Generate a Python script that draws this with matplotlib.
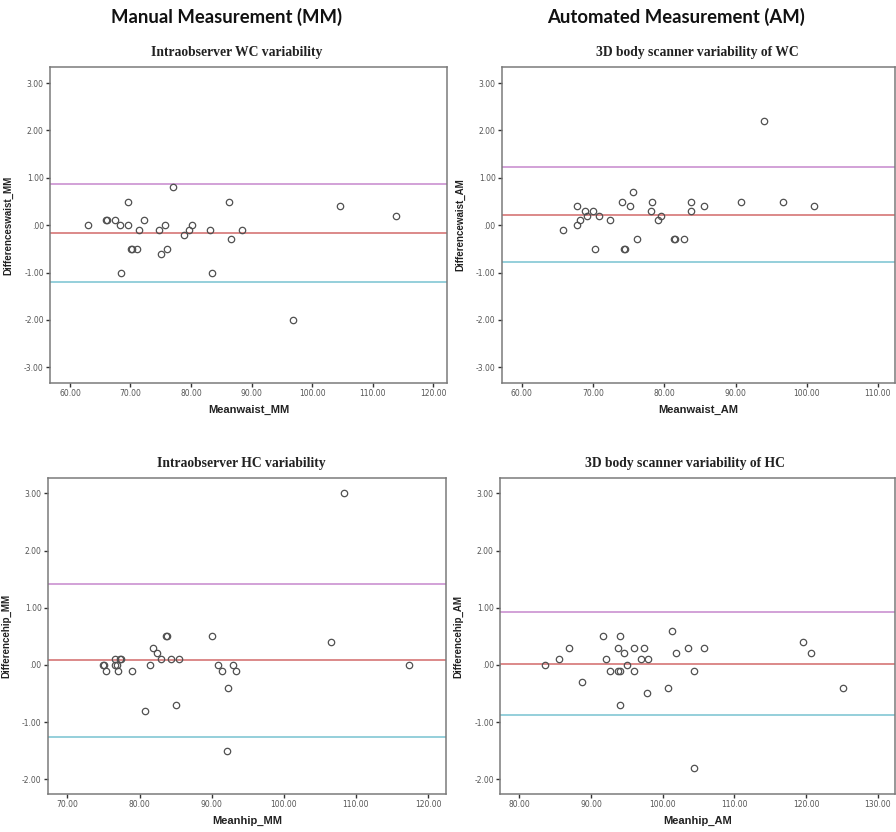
import matplotlib
matplotlib.use("Agg")
import matplotlib.pyplot as plt
from matplotlib.ticker import FuncFormatter

# Waist circumference, manual measurement (mean of two readings vs. difference)
wc_mm_mean = [62.9, 65.9, 66.2, 67.4, 68.3, 69.6, 69.6, 68.4, 70.1, 70.3, 71.1, 71.4,
              72.2, 74.7, 75.0, 75.7, 76.0, 77.1, 78.8, 79.7, 80.2, 83.1, 83.4, 86.3,
              86.6, 88.5, 96.9, 104.7, 113.8]
wc_mm_diff = [0.0, 0.1, 0.1, 0.1, 0.0, 0.5, 0.0, -1.0, -0.5, -0.5, -0.5, -0.1,
              0.1, -0.1, -0.6, 0.0, -0.5, 0.8, -0.2, -0.1, 0.0, -0.1, -1.0, 0.5,
              -0.3, -0.1, -2.0, 0.4, 0.2]
wc_mm_limits = [0.87, -0.17, -1.20]  # upper LoA, mean difference, lower LoA

# Waist circumference, 3D body scanner
wc_am_mean = [65.7, 67.7, 67.7, 68.1, 68.9, 69.1, 70.0, 70.3, 70.8, 72.3, 74.1, 74.4,
              74.5, 75.2, 75.6, 76.2, 78.1, 78.3, 79.1, 79.5, 81.4, 81.5, 82.8, 83.7,
              83.8, 85.6, 90.7, 94.0, 96.6, 101.0]
wc_am_diff = [-0.1, 0.4, 0.0, 0.1, 0.3, 0.2, 0.3, -0.5, 0.2, 0.1, 0.5, -0.5,
              -0.5, 0.4, 0.7, -0.3, 0.3, 0.5, 0.1, 0.2, -0.3, -0.3, -0.3, 0.5,
              0.3, 0.4, 0.5, 2.2, 0.5, 0.4]
wc_am_limits = [1.22, 0.22, -0.78]

# Hip circumference, manual measurement
hc_mm_mean = [74.95, 75.05, 75.4, 76.6, 76.6, 77.0, 76.9, 77.35, 77.45, 79.0, 80.8, 81.5,
              81.8, 82.4, 83.0, 83.65, 83.75, 84.4, 85.1, 85.5, 90.1, 90.9, 91.5, 92.3,
              92.1, 92.9, 93.4, 106.6, 108.3, 117.3]
hc_mm_diff = [0.0, 0.0, -0.1, 0.1, 0.0, -0.1, 0.0, 0.1, 0.1, -0.1, -0.8, 0.0,
              0.3, 0.2, 0.1, 0.5, 0.5, 0.1, -0.7, 0.1, 0.5, 0.0, -0.1, -0.4,
              -1.5, 0.0, -0.1, 0.4, 3.0, 0.0]
hc_mm_limits = [1.42, 0.08, -1.26]

# Hip circumference, 3D body scanner
hc_am_mean = [83.6, 85.5, 86.9, 88.7, 91.6, 92.1, 92.6, 93.7, 94.0, 93.8, 94.1, 94.1,
              94.6, 95.0, 96.0, 96.0, 96.9, 97.4, 98.0, 97.8, 100.7, 101.3, 101.9, 103.5,
              104.4, 104.3, 105.8, 119.5, 120.7, 125.2]
hc_am_diff = [0.0, 0.1, 0.3, -0.3, 0.5, 0.1, -0.1, 0.3, 0.5, -0.1, -0.1, -0.7,
              0.2, 0.0, 0.3, -0.1, 0.1, 0.3, 0.1, -0.5, -0.4, 0.6, 0.2, 0.3,
              -0.1, -1.8, 0.3, 0.4, 0.2, -0.4]
hc_am_limits = [0.92, 0.02, -0.87]

column_titles = ["Manual Measurement (MM)", "Automated Measurement (AM)"]
panel_titles = ["Intraobserver WC variability", "3D body scanner variability of WC",
                "Intraobserver HC variability", "3D body scanner variability of HC"]
x_labels = ["Meanwaist_MM", "Meanwaist_AM", "Meanhip_MM", "Meanhip_AM"]
y_labels = ["Differenceswaist_MM", "Differencewaist_AM", "Differencehip_MM", "Differencehip_AM"]

W, H = 896, 832
fig = plt.figure(figsize=(W / 100, H / 100), dpi=100)
fig.patch.set_facecolor("white")


def box(left, top, right, bottom):
    return [left / W, 1 - bottom / H, (right - left) / W, (bottom - top) / H]


panels = [
    dict(rect=box(50, 67, 447, 383), x=wc_mm_mean, y=wc_mm_diff, lim=wc_mm_limits,
         xlim=(56.7, 122.3), ylim=(-3.33, 3.34), xticks=range(60, 121, 10),
         yticks=[3, 2, 1, 0, -1, -2, -3], title_x=0.469),
    dict(rect=box(502, 67, 895, 383), x=wc_am_mean, y=wc_am_diff, lim=wc_am_limits,
         xlim=(57.2, 112.4), ylim=(-3.33, 3.34), xticks=range(60, 111, 10),
         yticks=[3, 2, 1, 0, -1, -2, -3], title_x=0.496),
    dict(rect=box(48, 478, 446, 794), x=hc_mm_mean, y=hc_mm_diff, lim=hc_mm_limits,
         xlim=(67.3, 122.5), ylim=(-2.26, 3.27), xticks=range(70, 121, 10),
         yticks=[3, 2, 1, 0, -1, -2], title_x=0.485),
    dict(rect=box(500, 478, 895, 794), x=hc_am_mean, y=hc_am_diff, lim=hc_am_limits,
         xlim=(77.3, 132.4), ylim=(-2.26, 3.27), xticks=range(80, 131, 10),
         yticks=[3, 2, 1, 0, -1, -2], title_x=0.468),
]


def spss_fmt(v, _pos=None):
    s = f"{v:.2f}"
    if s.startswith("0."):
        s = s[1:]
    elif s.startswith("-0."):
        s = "-" + s[2:]
    return s


line_colors = ["#cf9ad4", "#d98080", "#8ccbd8"]
frame_color = "#7a7a7a"

for i, p in enumerate(panels):
    ax = fig.add_axes(p["rect"])
    for lv, c in zip(p["lim"], line_colors):
        ax.axhline(lv, color=c, lw=1.3, zorder=1)
    ax.plot(p["x"], p["y"], ls="none", marker="o", ms=4.6, mfc="none",
            mec="#505050", mew=0.9, zorder=3)
    ax.set_xlim(*p["xlim"])
    ax.set_ylim(*p["ylim"])
    ax.set_xticks(list(p["xticks"]))
    ax.set_yticks(p["yticks"])
    ax.xaxis.set_major_formatter(FuncFormatter(spss_fmt))
    ax.yaxis.set_major_formatter(FuncFormatter(spss_fmt))
    ax.tick_params(direction="out", length=3, width=1, color="#333333",
                   labelsize=5.5, labelcolor="#555555", pad=1.5)
    for sp in ax.spines.values():
        sp.set_color(frame_color)
        sp.set_linewidth(1.1)
    ax.set_xlabel(x_labels[i], fontsize=8, fontweight="bold", family="Liberation Sans",
                  color="#222222", labelpad=5)
    ax.set_ylabel(y_labels[i], fontsize=7, fontweight="bold", family="Liberation Sans",
                  color="#222222", labelpad=8)
    title = ax.set_title(panel_titles[i], fontsize=9.8, fontweight="bold",
                         family="Liberation Serif", color="#222222", pad=8)
    title.set_x(p["title_x"])

fig.text(226 / W, 1 - 17 / H, column_titles[0], ha="center", va="center",
         fontsize=13.3, fontweight="bold", family="Lato", color="#111111")
fig.text(676 / W, 1 - 17 / H, column_titles[1], ha="center", va="center",
         fontsize=13.3, fontweight="bold", family="Lato", color="#111111")

fig.savefig("out.png", dpi=100, facecolor="white")
